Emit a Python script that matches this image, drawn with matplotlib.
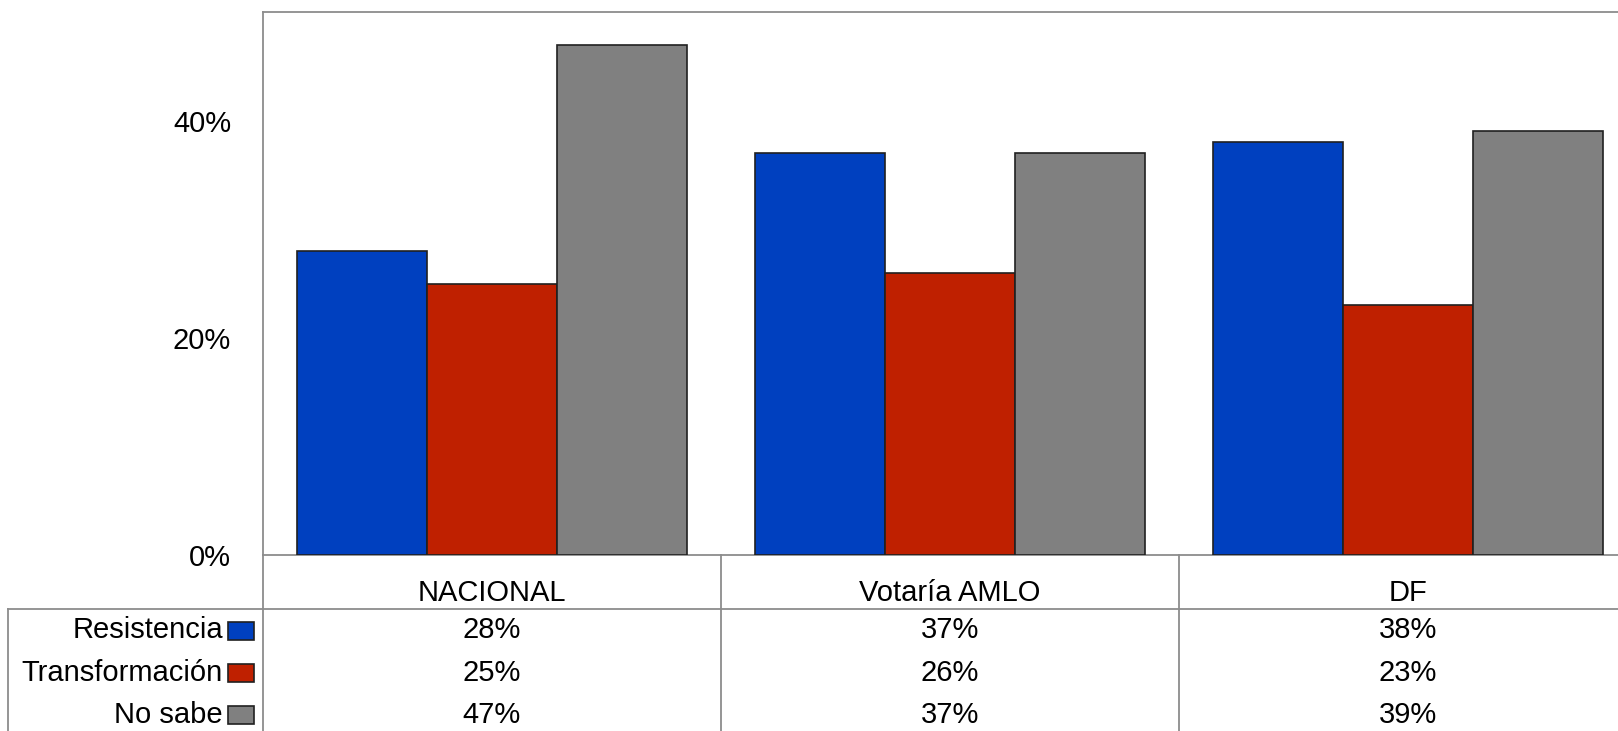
import matplotlib.pyplot as plt
import numpy as np
from matplotlib.patches import Rectangle
from matplotlib.lines import Line2D
import matplotlib.transforms as mtransforms

plt.rcParams['font.family'] = ['Liberation Sans', 'DejaVu Sans']

categories = ['NACIONAL', 'Votaría AMLO', 'DF']
series = ['Resistencia', 'Transformación', 'No sabe']
resistencia = [0.28, 0.37, 0.38]
transformacion = [0.25, 0.26, 0.23]
no_sabe = [0.47, 0.37, 0.39]
colors = ['#0040BF', '#BF2000', '#808080']
ticks = [0.0, 0.2, 0.4]
tick_labels = ['0%', '20%', '40%']

values = [resistencia, transformacion, no_sabe]
W, H = 1618, 731
fig = plt.figure(figsize=(W / 100, H / 100), dpi=100)

# axes extends past the right edge, like the cropped original
ax_left, ax_right = 263, 1637
ax_top, ax_bottom = 12, 555
ax = fig.add_axes([ax_left / W, (H - ax_bottom) / H, (ax_right - ax_left) / W, (ax_bottom - ax_top) / H])

x = np.arange(len(categories))
width = 0.85 / 3
for i, (vals, c) in enumerate(zip(values, colors)):
    ax.bar(x + (i - 1) * width, vals, width, color=c, edgecolor='#202020', linewidth=1.2, zorder=3)

fs = 21
ax.set_xlim(-0.5, len(categories) - 0.5)
ax.set_ylim(0, 0.5)
ax.set_yticks(ticks)
ax.set_yticklabels(tick_labels)
ax.tick_params(axis='y', length=0, pad=23, labelsize=fs)
ax.set_xticks([])
for s in ax.spines.values():
    s.set_color('#8c8c8c')
    s.set_linewidth(1.3)

# table below the chart: x in data coords, y in figure coords
trans = mtransforms.blended_transform_factory(ax.transData, fig.transFigure)

def fy(py):
    return (H - py) / H

line_kw = dict(color='#8c8c8c', linewidth=1.3)
fig.add_artist(Line2D([8 / W, 1], [fy(609), fy(609)], transform=fig.transFigure, **line_kw))
fig.add_artist(Line2D([8 / W, 8 / W], [fy(609), 0], transform=fig.transFigure, **line_kw))
fig.add_artist(Line2D([ax_left / W, ax_left / W], [fy(555), 0], transform=fig.transFigure, **line_kw))
for b in x[:-1] + 0.5:
    fig.add_artist(Line2D([b, b], [fy(555), 0], transform=trans, **line_kw))

for i, cat in enumerate(categories):
    fig.text(i, fy(593), cat, transform=trans, ha='center', va='center', fontsize=fs)

row_y = [630.5, 673, 715]
for r, (name, vals, c) in enumerate(zip(series, values, colors)):
    fig.text(223 / W, fy(row_y[r]), name, ha='right', va='center', fontsize=fs)
    fig.add_artist(Rectangle((228 / W, fy(row_y[r] + 9)), 26 / W, 18 / H,
                             transform=fig.transFigure, facecolor=c, edgecolor='#202020', linewidth=1.2))
    for i, v in enumerate(vals):
        fig.text(i, fy(row_y[r]), f'{round(v * 100)}%', transform=trans, ha='center', va='center', fontsize=fs)

fig.savefig('out.png', dpi=100)
